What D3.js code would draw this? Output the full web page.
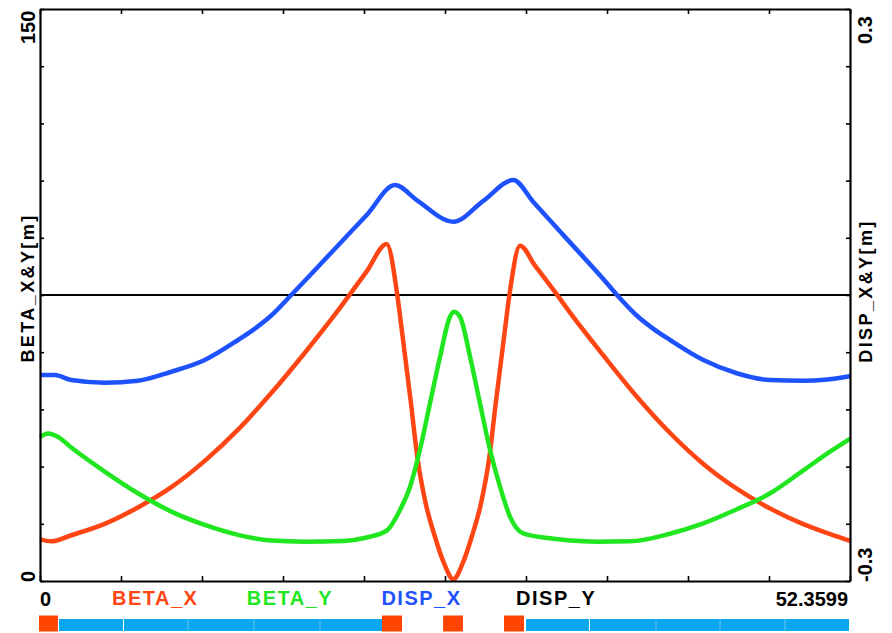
<!DOCTYPE html>
<html><head><meta charset="utf-8">
<script src="https://cdn.jsdelivr.net/npm/d3@7"></script>
<style>body{margin:0;background:#fff}svg{display:block}</style>
</head><body><svg id="c" width="892" height="633"></svg>
<script>
// ---- data ----
const sMax = 52.3599;
const seriesNames = ["BETA_X", "BETA_Y", "DISP_X", "DISP_Y"];
const xTickLabels = ["0", "52.3599"];
const leftTickLabels = ["0", "150"];
const rightTickLabels = ["-0.3", "0.3"];
const leftTitle = "BETA_X&Y[m]";
const rightTitle = "DISP_X&Y[m]";

const sBetaX = [0, 0.73, 2.02, 4.18, 6.33, 8.49, 10.65, 12.80, 14.95, 17.11, 18.96, 21.12, 22.41,
  23.09, 23.44, 23.98, 24.39, 24.93, 25.53, 26.12, 26.72, 27.32, 27.91, 28.51, 29.05, 29.46, 30.00, 30.35,
  31.03, 32.00, 33.18, 34.26, 36.41, 38.57, 40.73, 42.88, 45.04, 47.20, 49.34, 51.00, 52.36];
const betaX = [10.9, 10.4, 12.0, 15.0, 19.3, 24.6, 31.5, 39.7, 49.3, 59.8, 69.3, 81.2, 88.4,
  75.2, 64.1, 46.6, 32.6, 20.4, 11.6, 4.6, 0.45, 4.6, 11.6, 20.4, 32.6, 46.6, 64.1, 75.2,
  87.9, 82.7, 76.4, 70.4, 59.2, 48.4, 38.8, 30.7, 24.2, 19.0, 14.9, 12.4, 10.5];

const sBetaY = [0, 0.52, 1.16, 2.02, 4.18, 6.33, 8.49, 10.65, 12.80, 14.95, 17.11, 19.61, 21.12, 22.41,
  23.27, 23.92, 24.56, 25.21, 25.86, 26.50, 26.76, 27.15, 27.80, 28.44, 29.09, 29.74, 30.38, 31.24,
  32.97, 34.26, 36.00, 38.14, 40.72, 42.88, 45.04, 47.20, 49.34, 51.07, 52.36];
const betaY = [37.8, 38.7, 37.8, 35.0, 28.7, 23.0, 18.2, 14.7, 12.1, 10.6, 10.3, 10.5, 11.4, 13.2,
  18.6, 24.7, 34.4, 46.6, 58.8, 69.3, 70.6, 69.3, 58.8, 46.6, 34.4, 24.7, 16.9, 12.5,
  11.2, 10.6, 10.3, 10.4, 12.4, 15.1, 18.8, 23.0, 29.0, 33.9, 37.3];

const sDispX = [0, 0.95, 2.02, 4.18, 6.33, 8.49, 10.65, 12.80, 13.87, 14.95, 16.24, 18.96, 21.12, 22.95,
  24.35, 26.72, 28.66, 30.60, 31.89, 34.26, 36.41, 37.30, 38.57, 39.65, 40.73, 42.88, 45.04, 47.19, 49.34, 52.15, 52.36];
const dispX = [-0.0839, -0.0839, -0.0892, -0.0920, -0.0899, -0.0805, -0.0682, -0.0472, -0.0355, -0.0215, 0.0, 0.0467, 0.0839, 0.1154,
  0.0996, 0.0769, 0.0988, 0.1206, 0.0975, 0.0552, 0.0168, 0.0, -0.0215, -0.0355, -0.0472, -0.0682, -0.0821, -0.0892, -0.0899, -0.0857, -0.0850];

const sDispY = [0, 52.3599];
const dispY = [0, 0];

const magnetType = ["Q", "B", "B", "Q", "Q", "Q", "B", "B"];
const magnetStart = [0, 1.23, 5.43, 22.17, 26.12, 30.06, 31.42, 35.55];
const magnetEnd = [1.16, 5.43, 22.17, 23.40, 27.34, 31.29, 35.55, 52.36];
const dipoleSlices = [9.57, 13.83, 18.10, 39.82, 43.96, 48.16];

// ---- drawing ----
const colors = {BETA_X: "#ff4514", BETA_Y: "#1fe61f", DISP_X: "#1f52ff", DISP_Y: "#000000"};
const svg = d3.select("#c");
const L = 40, R = 850, T = 9, B = 581;
const x = d3.scaleLinear().domain([0, sMax]).range([L, R]);
const yL = d3.scaleLinear().domain([0, 150]).range([B, T]);
const yR = d3.scaleLinear().domain([-0.3, 0.3]).range([B, T]);

const mk = (sArr, vArr) => sArr.map((s, i) => [s, vArr[i]]);
const lineL = d3.line().x(d => x(d[0])).y(d => yL(d[1])).curve(d3.curveMonotoneX);
const lineR = d3.line().x(d => x(d[0])).y(d => yR(d[1])).curve(d3.curveMonotoneX);

svg.append("path").attr("d", lineR(mk(sDispY, dispY))).attr("fill", "none")
  .attr("stroke", colors.DISP_Y).attr("stroke-width", 2);
svg.append("path").attr("d", lineL(mk(sBetaX, betaX))).attr("fill", "none")
  .attr("stroke", colors.BETA_X).attr("stroke-width", 4.5).attr("stroke-linejoin", "round");
svg.append("path").attr("d", lineL(mk(sBetaY, betaY))).attr("fill", "none")
  .attr("stroke", colors.BETA_Y).attr("stroke-width", 4.5).attr("stroke-linejoin", "round");
svg.append("path").attr("d", lineR(mk(sDispX, dispX))).attr("fill", "none")
  .attr("stroke", colors.DISP_X).attr("stroke-width", 4.5).attr("stroke-linejoin", "round");

// axes (inward ticks)
const xt = d3.range(0, 11).map(i => i * sMax / 10);
const styleAxis = g => {
  g.select(".domain").attr("stroke", "#000").attr("stroke-width", 2.2);
  g.selectAll(".tick line").attr("stroke", "#000").attr("stroke-width", 1.6);
  g.selectAll(".tick text").remove();
};
svg.append("g").attr("transform", `translate(0,${B})`)
  .call(d3.axisBottom(x).tickValues(xt).tickSize(-5).tickSizeOuter(0)).call(styleAxis);
svg.append("g").attr("transform", `translate(0,${T})`)
  .call(d3.axisTop(x).tickValues(xt).tickSize(-5).tickSizeOuter(0)).call(styleAxis);
svg.append("g").attr("transform", `translate(${L},0)`)
  .call(d3.axisLeft(yL).tickValues(d3.range(0, 151, 15)).tickSize(-4).tickSizeOuter(0)).call(styleAxis);
svg.append("g").attr("transform", `translate(${R},0)`)
  .call(d3.axisRight(yR).tickValues(d3.range(0, 11).map(i => -0.3 + i * 0.06)).tickSize(-4).tickSizeOuter(0)).call(styleAxis);

// rotated axis labels
const numFont = "'Liberation Sans', Arial, sans-serif";
function vtext(txt, px, py, anchor, size, ls) {
  svg.append("text").attr("transform", `translate(${px},${py}) rotate(-90)`)
    .attr("text-anchor", anchor).attr("font-family", numFont).attr("font-weight", "bold")
    .attr("font-size", size).attr("letter-spacing", ls || 0).attr("fill", "#000").text(txt);
}
vtext(leftTickLabels[1], 35, 44, "start", 20);
vtext(leftTickLabels[0], 35, 582, "start", 20);
vtext(rightTickLabels[1], 872, 44, "start", 20);
vtext(rightTickLabels[0], 872, 582, "start", 20);
vtext(leftTitle, 34, 288, "middle", 18, 2.4);
vtext(rightTitle, 872, 291, "middle", 18, 2.4);

// x labels
svg.append("text").attr("x", x(0)).attr("y", 606).attr("font-family", numFont)
  .attr("font-weight", "bold").attr("font-size", 20).text(xTickLabels[0]);
svg.append("text").attr("x", 848).attr("y", 606).attr("text-anchor", "end").attr("font-family", numFont)
  .attr("font-weight", "bold").attr("font-size", 20).text(xTickLabels[1]);

// legend
seriesNames.forEach((n, i) => {
  svg.append("text").attr("x", 112 + i * 134.7).attr("y", 605).attr("font-family", numFont)
    .attr("font-weight", "bold").attr("font-size", 20).attr("letter-spacing", 1.5)
    .attr("fill", colors[n]).text(n);
});

// magnet bar
magnetType.forEach((t, i) => {
  const x0 = x(magnetStart[i]), x1 = x(magnetEnd[i]);
  if (t === "Q") {
    svg.append("rect").attr("x", x0 - 1).attr("y", 615.5).attr("width", x1 - x0 + 1).attr("height", 16)
      .attr("fill", "#ff4400");
  } else {
    svg.append("rect").attr("x", x0).attr("y", 619).attr("width", x1 - x0 - 1).attr("height", 12)
      .attr("fill", "#0aa6f0");
  }
});
dipoleSlices.forEach(s => {
  svg.append("line").attr("x1", x(s)).attr("x2", x(s)).attr("y1", 619).attr("y2", 631)
    .attr("stroke", "#ffffff").attr("stroke-opacity", 0.35).attr("stroke-width", 1);
});
</script>
</body></html>
